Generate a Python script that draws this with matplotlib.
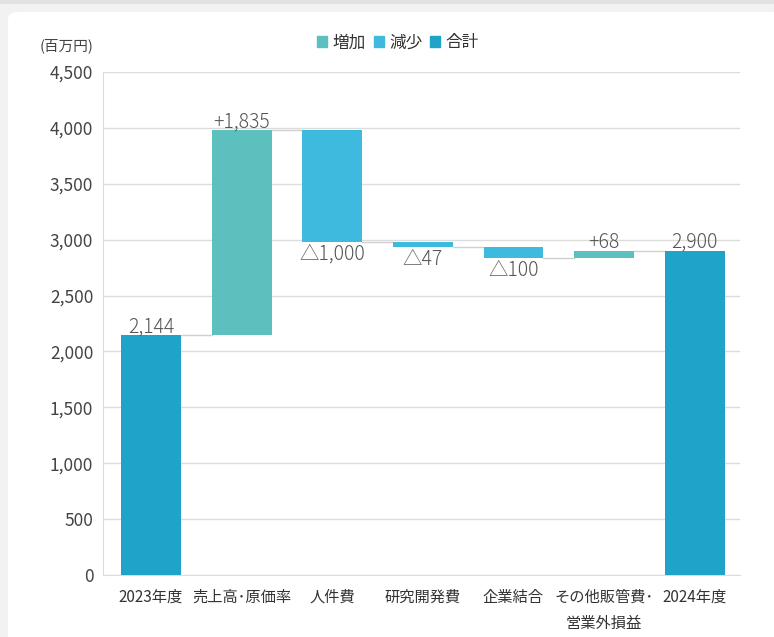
import matplotlib
matplotlib.use("Agg")
import matplotlib.pyplot as plt
from matplotlib.patches import FancyBboxPatch, Rectangle
import numpy as np

plt.rcParams['font.family'] = ['Noto Sans CJK JP', 'DejaVu Sans']

categories = ["2023年度", "売上高･原価率", "人件費", "研究開発費", "企業結合", "その他販管費･\n営業外損益", "2024年度"]
changes = [2144, 1835, -1000, -47, -100, 68, 2900]
kinds = ["total", "up", "down", "down", "down", "up", "total"]
labels = ["2,144", "+1,835", "△1,000", "△47", "△100", "+68", "2,900"]
yticks = [0, 500, 1000, 1500, 2000, 2500, 3000, 3500, 4000, 4500]

colors = {"up": "#5cc0bf", "down": "#3ebadf", "total": "#1fa3c8"}
legend_names = {"up": "増加", "down": "減少", "total": "合計"}

W, H = 774, 637
fig = plt.figure(figsize=(W / 100, H / 100), dpi=100, facecolor="#f2f2f2")
# white card
card = FancyBboxPatch((8 / W, -0.05), 1.0, (H - 12) / H + 0.05,
                      boxstyle="round,pad=0,rounding_size=0.012",
                      transform=fig.transFigure, facecolor="white", edgecolor="none", zorder=-10)
fig.patches.append(card)
fig.patches.append(Rectangle((0, 1 - 4 / H), 1, 4 / H, transform=fig.transFigure,
                             facecolor="#e2e2e2", edgecolor="none", zorder=-10))

ax = fig.add_axes([103 / W, 1 - 575 / H, (740 - 103) / W, (575 - 72) / H])
ax.set_zorder(5)
ax.set_facecolor("none")

x = np.arange(len(categories))
bottoms, tops = [], []
level = 0
for c, k in zip(changes, kinds):
    if k == "total":
        b, t = 0, c
        level = c
    else:
        b, t = (level, level + c) if c >= 0 else (level + c, level)
        level = level + c
    bottoms.append(b)
    tops.append(t)

width = 0.66
for i, k in enumerate(kinds):
    ax.bar(x[i], tops[i] - bottoms[i], bottom=bottoms[i], width=width,
           color=colors[k], zorder=3)

# connectors
running = []
level = 0
for c, k in zip(changes, kinds):
    level = c if k == "total" else level + c
    running.append(level)
for i in range(len(categories) - 1):
    ax.plot([x[i] + width / 2, x[i + 1] - width / 2], [running[i], running[i]],
            color="#d0d0d0", lw=1, zorder=2)

# value labels
for i, k in enumerate(kinds):
    if k == "down":
        ax.text(x[i], bottoms[i] - 12, labels[i], ha="center", va="top",
                fontsize=14, color="#555555", zorder=4, fontweight="light")
    else:
        ax.text(x[i], tops[i] - 18, labels[i], ha="center", va="bottom",
                fontsize=14, color="#555555", zorder=4, fontweight="light")

ax.set_ylim(0, 4500)
ax.set_xlim(-0.53, 6.5)
ax.set_yticks(yticks)
ax.set_yticklabels([f"{v:,}" for v in yticks], fontsize=12.5, color="#444444")
ax.set_xticks(x)
ax.set_xticklabels(categories, fontsize=11, color="#333333", linespacing=1.7, va="top")
ax.yaxis.grid(True, color="#dcdcdc", lw=1, zorder=0)
ax.set_axisbelow(True)
for s in ["top", "right"]:
    ax.spines[s].set_visible(False)
ax.spines["bottom"].set_color("#dcdcdc")
ax.spines["left"].set_color("#dcdcdc")
ax.tick_params(axis="both", length=0)
ax.tick_params(axis="y", pad=7)
ax.tick_params(axis="x", pad=10)

fig.text(40 / W, 1 - 46 / H, "(百万円)", fontsize=10.5, color="#444444", va="center", ha="left")

# legend
handles = [Rectangle((0, 0), 1, 1, color=colors[k]) for k in ["up", "down", "total"]]
fig.legend(handles, [legend_names[k] for k in ["up", "down", "total"]],
           loc="center", bbox_to_anchor=(398 / W, 1 - 43 / H), ncol=3, frameon=False,
           fontsize=12, handlelength=0.6, handleheight=0.6, handletextpad=0.3,
           columnspacing=0.5, labelcolor="#333333")

fig.savefig("out.png", dpi=100, facecolor=fig.get_facecolor())
